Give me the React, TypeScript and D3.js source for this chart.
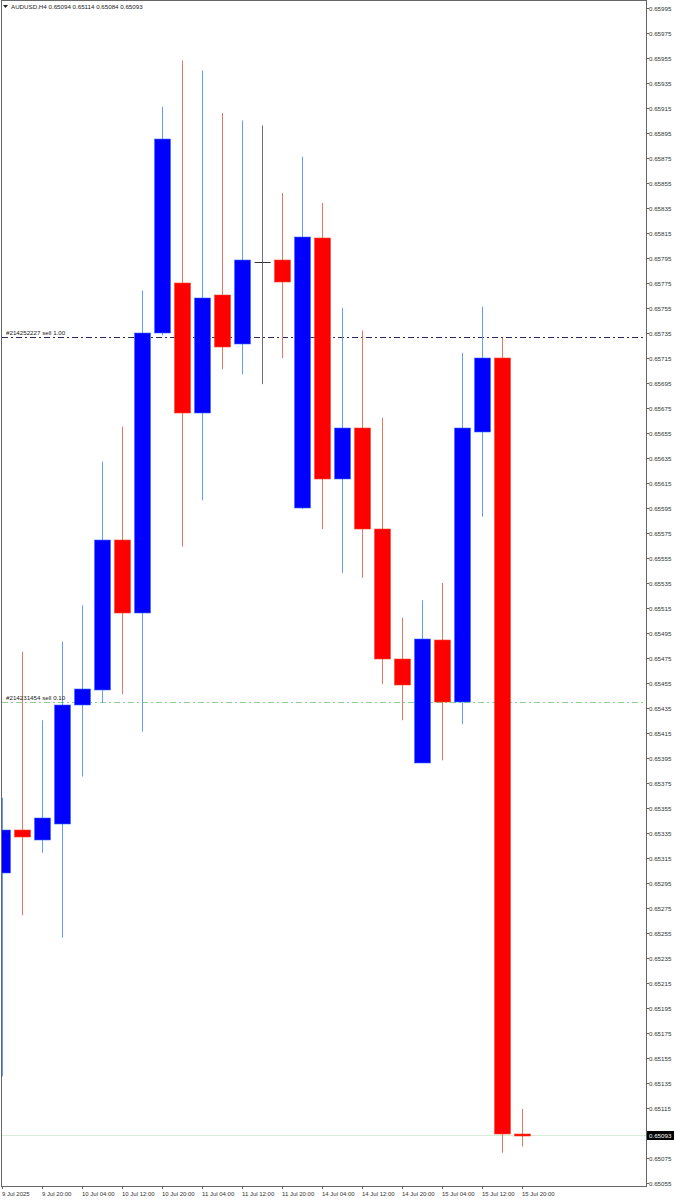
import * as d3 from "d3";

// AUDUSD H4 bars, oldest first
const times = [
  "9 Jul 2025", "9 Jul 16:00", "9 Jul 20:00", "10 Jul 00:00", "10 Jul 04:00", "10 Jul 08:00",
  "10 Jul 12:00", "10 Jul 16:00", "10 Jul 20:00", "11 Jul 00:00", "11 Jul 04:00", "11 Jul 08:00",
  "11 Jul 12:00", "11 Jul 16:00", "11 Jul 20:00", "14 Jul 00:00", "14 Jul 04:00", "14 Jul 08:00",
  "14 Jul 12:00", "14 Jul 16:00", "14 Jul 20:00", "15 Jul 00:00", "15 Jul 04:00", "15 Jul 08:00",
  "15 Jul 12:00", "15 Jul 16:00", "15 Jul 20:00",
];
const opens = [
  0.65303, 0.65337, 0.65329, 0.65342, 0.65437, 0.65449, 0.65569, 0.65511, 0.65735, 0.65775,
  0.65671, 0.65765, 0.65726, 0.65792, 0.65793, 0.65595, 0.65811, 0.65618, 0.65659, 0.65578,
  0.65474, 0.65391, 0.65489, 0.6544, 0.65656, 0.65715, 0.65094,
];
const highs = [
  0.65363, 0.6548, 0.65425, 0.65488, 0.65517, 0.65632, 0.6566, 0.65769, 0.65916, 0.65953,
  0.65945, 0.65911, 0.65905, 0.65901, 0.65847, 0.65876, 0.65839, 0.65755, 0.65737, 0.65667,
  0.65507, 0.65521, 0.65535, 0.65719, 0.65756, 0.65731, 0.65114,
];
const lows = [
  0.6514, 0.65269, 0.65319, 0.65251, 0.6538, 0.65439, 0.65446, 0.65416, 0.65733, 0.65564,
  0.65601, 0.65706, 0.65702, 0.65694, 0.65715, 0.65594, 0.65578, 0.65543, 0.65539, 0.65454,
  0.65425, 0.65391, 0.65393, 0.65422, 0.65588, 0.65079, 0.65084,
];
const closes = [
  0.65337, 0.65332, 0.65347, 0.65437, 0.6545, 0.65569, 0.65511, 0.65735, 0.6589, 0.65671,
  0.65763, 0.65724, 0.65793, 0.65792, 0.65776, 0.65812, 0.65618, 0.65659, 0.65578, 0.65474,
  0.65453, 0.6549, 0.6544, 0.65659, 0.65715, 0.65094, 0.65093,
];

const axisLabels = [
  "9 Jul 2025", "9 Jul 20:00", "10 Jul 04:00", "10 Jul 12:00", "10 Jul 20:00", "11 Jul 04:00",
  "11 Jul 12:00", "11 Jul 20:00", "14 Jul 04:00", "14 Jul 12:00", "14 Jul 20:00", "15 Jul 04:00",
  "15 Jul 12:00", "15 Jul 20:00",
];

const orderLines = [
  { label: "#214252227 sell 1.00", price: 0.65732, color: "#2b2b5e", dash: "6,3,2,3" },
  { label: "#214231454 sell 0.10", price: 0.6544, color: "#8fd08f", dash: "6,3,2,3" },
];
const bid = 0.65093;
const header = "AUDUSD,H4  0.65094 0.65114 0.65084 0.65093";

const W = 675;
const H = 1200;
const left = 2;
const right = 646;
const top = 1;
const bottom = 1186;
const FONT = "'Liberation Sans', Arial, sans-serif";

export default function App() {
  const x = d3.scaleLinear().domain([0, times.length - 1]).range([2, 522]);
  const y = d3.scaleLinear().domain([0.65055, 0.65995]).range([1182.7, 8]);
  const priceTicks = d3.range(0, 48).map((i) => 0.65055 + i * 0.0002);
  const fmt = d3.format(".5f");
  const bodyW = 16;

  const candles = times.map((t, i) => {
    const o = opens[i], c = closes[i];
    const up = c > o;
    const doji = Math.abs(c - o) < 0.000005;
    return { t, i, o, c, h: highs[i], l: lows[i], up, doji };
  });

  return (
    <svg
      width={W}
      height={H}
      style={{ position: "absolute", left: 0, top: 0, background: "#fff" }}
      fontFamily={FONT}
    >
      <defs>
        <clipPath id="plot">
          <rect x={left} y={top} width={right - left} height={bottom - top} />
        </clipPath>
      </defs>

      <g clipPath="url(#plot)">
        {/* bid line */}
        <line x1={left} x2={right} y1={Math.round(y(bid)) + 0.5} y2={Math.round(y(bid)) + 0.5} stroke="#d8ecd8" />

        {/* order lines sit behind the bars */}
        {orderLines.map((l) => {
          const yy = Math.round(y(l.price)) + 0.5;
          return (
            <line key={l.label} x1={left} x2={right} y1={yy} y2={yy} stroke={l.color} strokeDasharray={l.dash} />
          );
        })}

        {candles.map((d) => {
          const cx = Math.round(x(d.i)) + 0.5;
          const wick = d.doji ? "#6c6c84" : d.up ? "#5f9cff" : "#e5785e";
          const fill = d.up ? "#0000ff" : "#ff0000";
          const yTop = Math.round(y(Math.max(d.o, d.c)));
          const yBot = Math.round(y(Math.min(d.o, d.c)));
          return (
            <g key={d.t}>
              <line x1={cx} x2={cx} y1={y(d.h)} y2={y(d.l)} stroke={wick} strokeWidth={1} />
              {d.doji ? (
                <line x1={cx - bodyW / 2} x2={cx + bodyW / 2} y1={yTop + 0.5} y2={yTop + 0.5} stroke="#333" />
              ) : (
                <rect
                  x={cx - bodyW / 2}
                  y={yTop}
                  width={bodyW}
                  height={Math.max(2, yBot - yTop)}
                  fill={fill}
                  stroke={d.up ? "#3a6cff" : "#f04a2a"}
                  strokeWidth={0.6}
                />
              )}
            </g>
          );
        })}

        {orderLines.map((l) => {
          const yy = Math.round(y(l.price)) + 0.5;
          return (
            <text key={l.label} x={6} y={yy - 2.5} fontSize={6.2} fill="#222">
              {l.label}
            </text>
          );
        })}
      </g>

      {/* frame */}
      <rect x={left - 0.5} y={top - 0.5} width={right - left + 1} height={bottom - top + 1} fill="none" stroke="#666" />

      {/* header */}
      <path d="M3,5 L8,5 L5.5,8 Z" fill="#222" />
      <text x={11} y={8.5} fontSize={6.2} fill="#222">
        {header}
      </text>

      {/* price axis */}
      {priceTicks.map((p) => {
        const yy = Math.round(y(p)) + 0.5;
        return (
          <g key={p}>
            <line x1={right + 0.5} x2={right + 3} y1={yy} y2={yy} stroke="#666" />
            <text x={649} y={yy + 2.2} fontSize={6.2} fill="#333">
              {fmt(p)}
            </text>
          </g>
        );
      })}
      <rect x={647} y={Math.round(y(bid)) - 4} width={27} height={9} fill="#000" />
      <text x={649} y={Math.round(y(bid)) + 2.7} fontSize={6.2} fill="#fff">
        {fmt(bid)}
      </text>

      {/* time axis */}
      {axisLabels.map((s, k) => {
        const xx = Math.round(x(k * 2)) + 0.5;
        return (
          <g key={s}>
            <line x1={xx} x2={xx} y1={bottom} y2={bottom + 3} stroke="#666" />
            <text x={xx - 0.5} y={1196} fontSize={6} fill="#333">
              {s}
            </text>
          </g>
        );
      })}
    </svg>
  );
}
